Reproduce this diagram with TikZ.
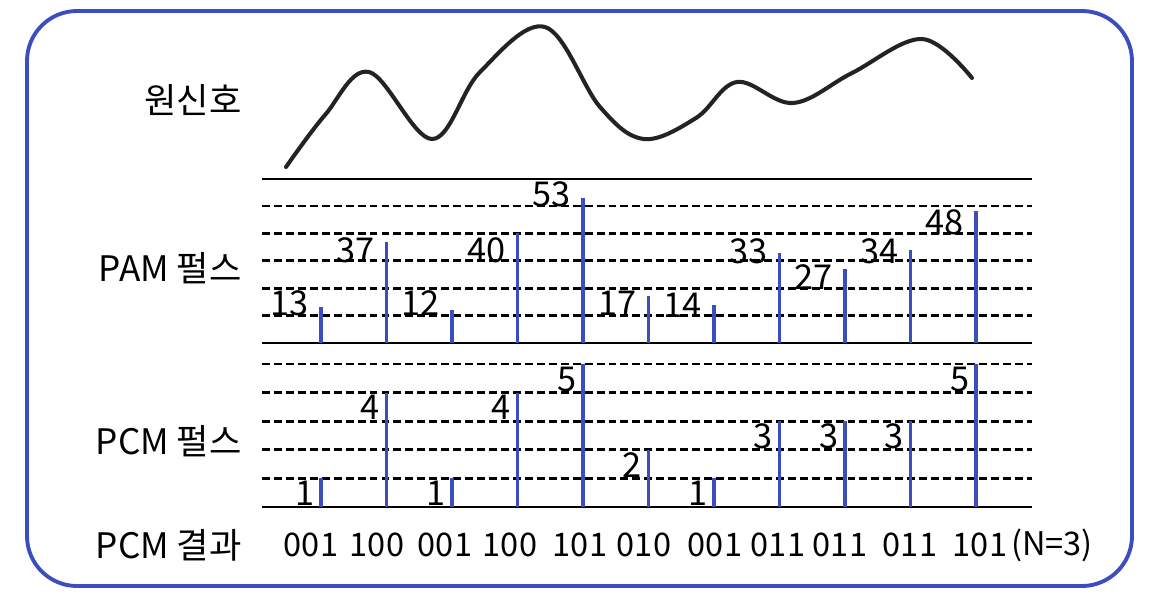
\documentclass[tikz,border=0pt]{standalone}
\usepackage{fontspec}
\setmainfont{Noto Sans CJK KR}
\usetikzlibrary{calc}
\usepackage{xcolor}
\definecolor{sigBlue}{RGB}{60,78,190}
\definecolor{waveGray}{RGB}{35,35,35}
\tikzset{
    % Colors & lines
    frame/.style={draw=sigBlue, line width=2.2pt, rounded corners=10mm},
    wave/.style={draw=waveGray, line width=2.3pt, line cap=round},
    axis/.style={draw=black, line width=1.6pt},
    level/.style={draw=black, line width=1.5pt, dash pattern=on 4.5pt off 2.3pt},
    pulse/.style={draw=sigBlue, line width=2.1pt},
    % Labels
    rowlbl/.style={anchor=east, inner sep=0pt, font=\fontsize{20}{24}\selectfont},
    val/.style={inner sep=0pt, font=\fontsize{19.5}{23}\selectfont},
    code/.style={inner sep=0pt, font=\fontsize{18.5}{22}\selectfont}
}

\begin{document}
\begin{tikzpicture}[x=0.2mm, y=-0.2mm]

\useasboundingbox (0,0) rectangle (1170,598);
\draw[frame] (27,11) rectangle (1132,586);

% original signal
\node[rowlbl] (orig) at (242,100) {원신호};
\draw[wave] plot[smooth, tension=0.6] coordinates {(286,167) (325,115) (369,72) (432,139) (480,72) (545,27) (600,107) (644,139) (696,118) (737,82) (793,103) (852,73) (922,39) (972,78)};

% PAM pulses
\node[rowlbl] (pam) at (242,268) {PAM 펄스};
\draw[axis] (262,179) -- (1032,179);
\foreach \k in {1,...,5}
    \draw[level] (262,{343-27.4*\k}) -- (1032,{343-27.4*\k});
\draw[axis] (262,343) -- (1032,343);
\foreach \lv/\ly [count=\i from 0] in {13/303, 37/250, 12/303, 40/250, 53/194, 17/303, 14/305, 33/251, 27/277, 34/251, 48/222} {
    \draw[pulse] ({321+65.5*\i},343) -- ++(0,{-2.74*\lv});
    \node[val, anchor=east] (am\i) at ({309+65.5*\i},\ly) {\lv};
}

% PCM pulses
\node[rowlbl] (pcm) at (242,441) {PCM 펄스};
\foreach \k in {1,...,5}
    \draw[level] (262,{507-28.6*\k}) -- (1032,{507-28.6*\k});
\draw[axis] (262,507) -- (1032,507);
\foreach \lv/\bits/\cx [count=\i from 0] in {1/001/311, 4/100/377, 1/001/445, 4/100/510, 5/101/580, 2/010/644, 1/001/715, 3/011/778, 3/011/840, 3/011/910, 5/101/980} {
    \draw[pulse] ({321+65.5*\i},507) -- ++(0,{-28.6*\lv});
    \node[val] (cm\i) at ({305+65.5*\i},{522-28.6*\lv}) {\lv};
    \node[code] (bits\i) at (\cx,545) {\bits};
}

% PCM result
\node[rowlbl] (res) at (242,545) {PCM 결과};
\node[code] (nbits) at (1052,545) {(N=3)};

\end{tikzpicture}
\end{document}
